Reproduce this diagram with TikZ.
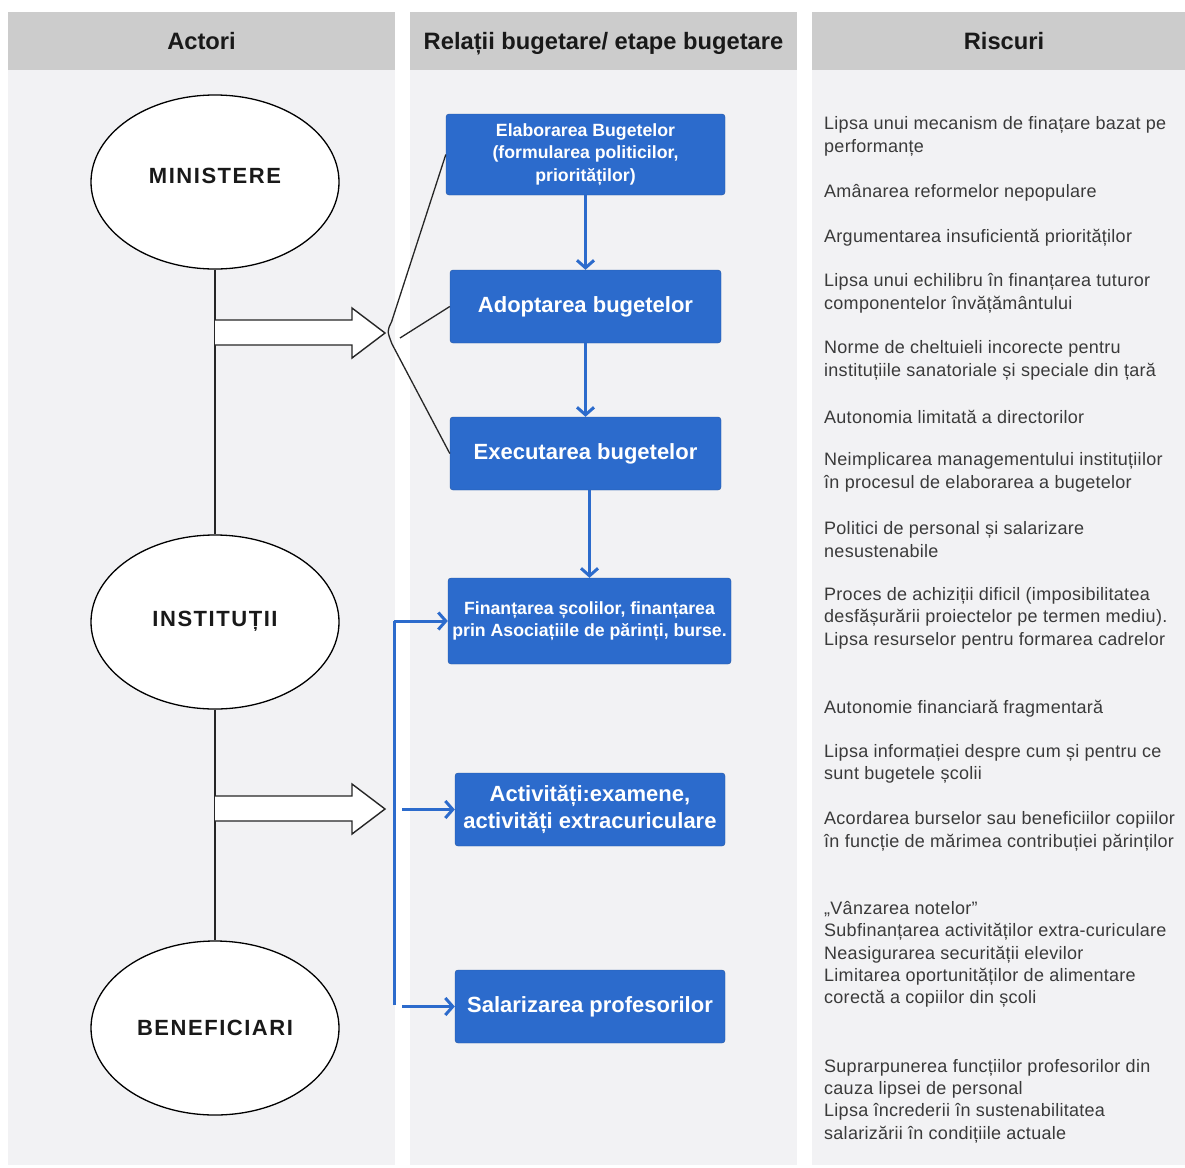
\documentclass[tikz,border=0pt]{standalone}
\usepackage{fontspec}
\setmainfont{Liberation Sans}
\newfontfamily\actorfont[LetterSpace=7]{Liberation Sans}
\newfontfamily\riskfont[LetterSpace=1.5]{Liberation Sans}
\usetikzlibrary{shapes.geometric,arrows.meta}
\definecolor{hdr}{RGB}{204,204,204}
\definecolor{panel}{RGB}{242,242,244}
\definecolor{bluebox}{RGB}{44,107,204}
\definecolor{risk}{RGB}{58,58,58}
\tikzset{
  hdrbox/.style={fill=hdr,draw=none},
  panelbox/.style={fill=panel,draw=none},
  hdrtext/.style={anchor=base,font=\fontsize{23.7}{26}\selectfont\bfseries,text=black!90},
  actor/.style={ellipse,draw=black,line width=1.3pt,fill=white,minimum width=248,minimum height=174,inner sep=0},
  actortxt/.style={font=\actorfont\fontsize{22}{26}\selectfont\bfseries,text=black!90,inner sep=0},
  stepbox/.style={rectangle,rounded corners=3,fill=bluebox,draw=bluebox!80!black,line width=0.4pt,text=white,align=center,inner sep=1},
  bigtxt/.style={font=\fontsize{22}{27}\selectfont\bfseries},
  smalltxt/.style={font=\fontsize{17.7}{22.4}\selectfont\bfseries},
  flow/.style={draw=bluebox,line width=3pt,-{Straight Barb[length=7.5pt,width=17pt]}},
  bus/.style={draw=bluebox,line width=3pt},
  blockarrow/.style={draw=black!85,fill=white,line width=1.4pt,line join=miter},
  spine/.style={draw=black!85,line width=1.3pt},
  brace/.style={draw=black!85,line width=1.3pt},
  risktxt/.style={anchor=west,align=left,inner sep=0,text=risk,font=\riskfont\fontsize{18}{22.4}\selectfont}
}
\begin{document}
\begin{tikzpicture}[x=1pt,y=-1pt]
\useasboundingbox (0,0) rectangle (1185,1167);
\fill[white] (0,0) rectangle (1185,1167);
% panels
\path[hdrbox] (8,12) rectangle (395,70);
\path[panelbox] (8,70) rectangle (395,1165);
\path[hdrbox] (410,12) rectangle (797,70);
\path[panelbox] (410,70) rectangle (797,1165);
\path[hdrbox] (812,12) rectangle (1185,70);
\path[panelbox] (812,70) rectangle (1185,1165);
\node[hdrtext] (h1) at (201.5,49.5) {Actori};
\node[hdrtext] (h2) at (603.5,49.5) {Relații bugetare/ etape bugetare};
\node[hdrtext] (h3) at (1004,49.5) {Riscuri};

% actors
\node[actor] (min) at (215,182) {};
\node[actor] (inst) at (215,622) {};
\node[actor] (ben) at (215,1028) {};
\node[actortxt] (mint) at (215,176) {MINISTERE};
\node[actortxt] (instt) at (215,621) {INSTITUȚII};
\node[actortxt] (bent) at (215,1028) {BENEFICIARI};
\draw[spine] (min.south) -- (inst.north);
\draw[spine] (inst.south) -- (ben.north);

% block arrows
\draw[blockarrow] (215,320) -- (352,320) -- (352,308) -- (385,333) -- (352,358) -- (352,345) -- (215,345);
\draw[blockarrow] (215,796) -- (352,796) -- (352,784) -- (385,809) -- (352,834) -- (352,821) -- (215,821);

% boxes
\node[stepbox,smalltxt,minimum width=279,minimum height=81] (elab) at (585.5,154.5)
  {Elaborarea Bugetelor\\(formularea politicilor,\\priorităților)};
\node[stepbox,bigtxt,minimum width=271,minimum height=73] (ad) at (585.5,306.5) {Adoptarea bugetelor};
\node[stepbox,bigtxt,minimum width=271,minimum height=73] (ex) at (585.5,453.5) {Executarea bugetelor};
\node[stepbox,smalltxt,minimum width=283,minimum height=86] (fin) at (589.5,621)
  {Finanțarea școlilor, finanțarea\\prin Asociațiile de părinți, burse.};
\node[stepbox,bigtxt,minimum width=270,minimum height=73] (act) at (590,809.5)
  {Activități:examene,\\activități extracuriculare};
\node[stepbox,bigtxt,minimum width=270,minimum height=73] (sal) at (590,1006.5) {Salarizarea profesorilor};

% flow arrows
\draw[flow] (elab.south) -- (ad.north);
\draw[flow] (ad.south) -- (ex.north);
\draw[flow] (fin.north |- ex.south) -- (fin.north);

% brace
\coordinate (stub) at (400,338);
\draw[brace] (elab.west) -- (391.5,322) .. controls (387,331) .. (392,344) -- (ex.west);
\draw[brace] (stub) -- (ad.west);

% blue bus
\coordinate (bustop) at (394,621);
\coordinate (busbot) at (394,1005);
\coordinate (actstart) at (402,809.5);
\coordinate (salstart) at (402,1006.5);
\draw[bus] (busbot) -- (bustop);
\draw[flow] (bustop) -- (fin.west);
\draw[flow] (actstart) -- (act.west);
\draw[flow] (salstart) -- (sal.west);

% risks
\node[risktxt] (r1) at (824,136.5) {Lipsa unui mecanism de finațare bazat pe\\performanțe};
\node[risktxt] (r2) at (824,192.5) {Amânarea reformelor nepopulare};
\node[risktxt] (r3) at (824,237.5) {Argumentarea insuficientă priorităților};
\node[risktxt] (r4) at (824,293.5) {Lipsa unui echilibru în finanțarea tuturor\\componentelor învățământului};
\node[risktxt] (r5) at (824,360.5) {Norme de cheltuieli incorecte pentru\\instituțiile sanatoriale și speciale din țară};
\node[risktxt] (r6) at (824,416.5) {Autonomia limitată a directorilor};
\node[risktxt] (r7) at (824,472.5) {Neimplicarea managementului instituțiilor\\în procesul de elaborarea a bugetelor};
\node[risktxt] (r8) at (824,539.5) {Politici de personal și salarizare\\nesustenabile};
\node[risktxt] (r9) at (824,618) {Proces de achiziții dificil (imposibilitatea\\desfășurării proiectelor pe termen mediu).\\Lipsa resurselor pentru formarea cadrelor};
\node[risktxt] (r10) at (824,708.5) {Autonomie financiară fragmentară};
\node[risktxt] (r11) at (824,764) {Lipsa informației despre cum și pentru ce\\sunt bugetele școlii};
\node[risktxt] (r12) at (824,831.5) {Acordarea burselor sau beneficiilor copiilor\\în funcție de mărimea contribuției părinților};
\node[risktxt] (r13) at (824,954.5) {„Vânzarea notelor”\\Subfinanțarea activităților extra-curiculare\\Neasigurarea securității elevilor\\Limitarea oportunităților de alimentare\\corectă a copiilor din școli};
\node[risktxt] (r14) at (824,1101) {Suprarpunerea funcțiilor profesorilor din\\cauza lipsei de personal\\Lipsa încrederii în sustenabilitatea\\salarizării în condițiile actuale};
\end{tikzpicture}
\end{document}
